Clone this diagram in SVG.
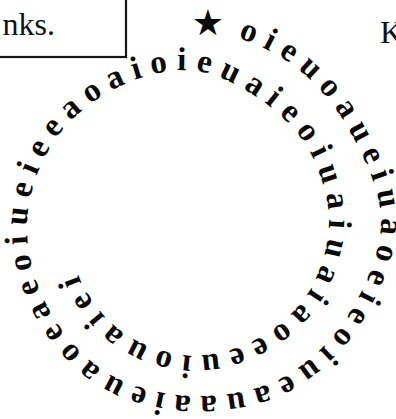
<svg xmlns="http://www.w3.org/2000/svg" width="396" height="419" viewBox="0 0 396 419">
<style>
.sp{font-family:"Liberation Serif","Times New Roman",serif;font-weight:bold;font-size:33px;letter-spacing:9px;fill:#0a0a0a}
.note{font-family:"Liberation Serif","Times New Roman",serif;font-size:32px;fill:#111}
.star{font-family:"DejaVu Sans",sans-serif;font-size:36px;fill:#0a0a0a}
</style>
<defs>
<path id="spiral" d="M192,29 C224.2,30.7 259.2,43.1 285.5,60.1 C311.8,77.1 334.4,104 349.6,131 C364.9,158 381,191.7 381,222 C381,252.3 365.4,287 349.6,313 C333.8,339 308.3,364.1 282,377.9 C255.7,391.7 221.4,397 192,396 C162.6,395 129.7,386.8 105.5,371.8 C81.3,356.8 60,330.8 46.9,305.8 C33.8,280.8 25.9,249.3 27,222 C28.1,194.7 38.7,164.2 53.4,142 C68.1,119.8 91.9,100.5 115,88.6 C138.1,76.7 167.5,68.5 192,70.5 C216.5,72.5 242.2,87 262,100.8 C281.8,114.6 299.9,133.3 310.6,153.5 C321.3,173.7 329.1,199.3 329,222 C328.9,244.8 321,270.7 309.8,290 C298.6,309.3 278.6,327.1 259,338 C239.4,348.9 214,356 192,355.5 C170,355 144.9,346.8 126.75,335 C108.6,323.3 92.4,303.8 82.9,285 C73.4,266.2 68.9,242.3 70,222"/>
</defs>
<rect width="396" height="419" fill="#fff"/>
<g id="note-box">
<rect x="-6" y="-6" width="132" height="63" fill="none" stroke="#151515" stroke-width="2.2"/>
<text class="note" x="55" y="35" text-anchor="end">nks.</text>
</g>
<g id="margin-letter">
<text class="note" x="380" y="43">K</text>
</g>
<g id="star">
<text class="star" x="208" y="35" text-anchor="middle">★</text>
</g>
<g id="spiral-text">
<text class="sp"><textPath href="#spiral" startOffset="46.75">oieuoaueiuaoeieoiueauaaieuaoeaeoiueieeaoaioieuaieoiuaiuaiaoeeuiouaiei</textPath></text>
</g>
</svg>
